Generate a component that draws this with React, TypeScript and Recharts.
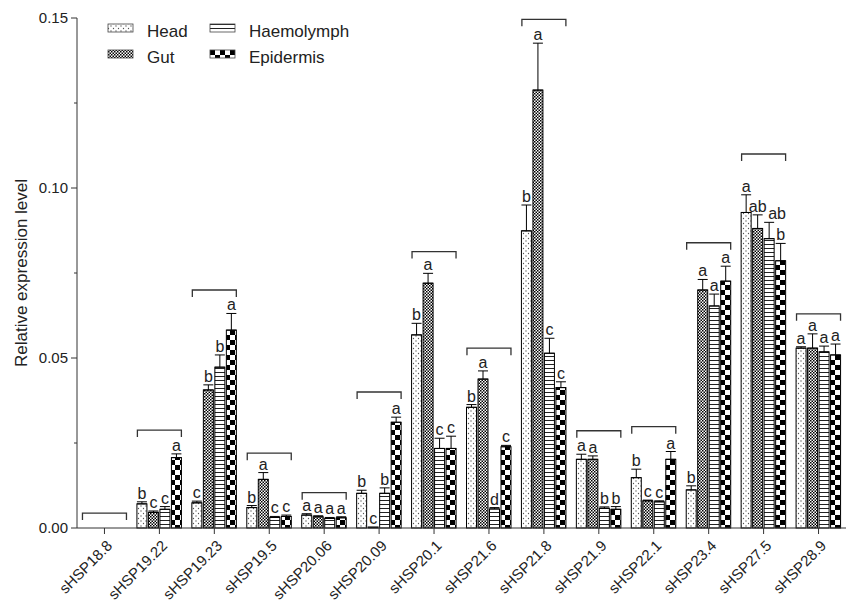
import React from 'react';
import { ComposedChart, Bar, XAxis, YAxis, ErrorBar, Scatter } from 'recharts';

const genes = ['sHSP18.8', 'sHSP19.22', 'sHSP19.23', 'sHSP19.5', 'sHSP20.06', 'sHSP20.09', 'sHSP20.1', 'sHSP21.6', 'sHSP21.8', 'sHSP21.9', 'sHSP22.1', 'sHSP23.4', 'sHSP27.5', 'sHSP28.9'];

const head = [0, 0.0071, 0.0074, 0.006, 0.0038, 0.0102, 0.0568, 0.0355, 0.0874, 0.0202, 0.0148, 0.0112, 0.0928, 0.0529];
const headErr = [0, 0.0006, 0.0005, 0.0006, 0.0004, 0.0009, 0.0034, 0.0008, 0.0076, 0.0015, 0.0025, 0.0012, 0.0052, 0.0004];
const gut = [0, 0.0046, 0.0406, 0.0143, 0.0033, 0.0003, 0.072, 0.0438, 0.1288, 0.0202, 0.008, 0.07, 0.0881, 0.0529];
const gutErr = [0, 0.0004, 0.0015, 0.002, 0.0003, 0, 0.0029, 0.0024, 0.0138, 0.001, 0.0002, 0.0031, 0.004, 0.0042];
const haemolymph = [0, 0.0055, 0.0473, 0.0031, 0.0028, 0.0102, 0.0234, 0.0056, 0.0514, 0.0058, 0.0077, 0.0653, 0.0851, 0.0518];
const haemolymphErr = [0, 0.0008, 0.0036, 0.0003, 0.0003, 0.0016, 0.003, 0.0004, 0.0044, 0.0004, 0.0003, 0.0035, 0.0048, 0.0017];
const epidermis = [0, 0.0207, 0.0582, 0.0034, 0.003, 0.0311, 0.0234, 0.0239, 0.0413, 0.0055, 0.0202, 0.0726, 0.0786, 0.0509];
const epidermisErr = [0, 0.0011, 0.0049, 0.0004, 0.0003, 0.0015, 0.0036, 0.0004, 0.0017, 0.0008, 0.0023, 0.0044, 0.0051, 0.0032];

// significance letters per tissue
const headLetters = ['', 'b', 'c', 'b', 'a', 'b', 'b', 'b', 'b', 'a', 'b', 'b', 'a', 'a'];
const gutLetters = ['', 'c', 'b', 'a', 'a', 'c', 'a', 'a', 'a', 'a', 'c', 'a', 'ab', 'a'];
const haemolymphLetters = ['', 'c', 'b', 'c', 'a', 'b', 'c', 'd', 'c', 'b', 'c', 'a', 'ab', 'a'];
const epidermisLetters = ['', 'a', 'a', 'c', 'a', 'a', 'c', 'c', 'c', 'b', 'a', 'a', 'b', 'a'];

// height of the comparison bracket over each gene
const brackets = [0.0044, 0.0288, 0.07, 0.022, 0.0104, 0.04, 0.0813, 0.0529, 0.1496, 0.0286, 0.0298, 0.0839, 0.11, 0.063];

const yTicks = [0, 0.025, 0.05, 0.075, 0.1, 0.125, 0.15];

const FONT = '"Liberation Sans", Arial, Helvetica, sans-serif';
const W = 850;
const H = 611;
const PLOT_TOP = 18;
const PLOT_BOTTOM = 528;
const Y_MAX = 0.15;
const PX_PER_UNIT = (PLOT_BOTTOM - PLOT_TOP) / Y_MAX;

// upper-only error range; no whisker where there is nothing to show
const upperErr = (v: number, e: number) => (v > 0 && e > 0 ? [0, e] : null);

const data = genes.map((name, i) => ({
  name,
  head: head[i],
  headE: upperErr(head[i], headErr[i]),
  gut: gut[i],
  gutE: upperErr(gut[i], gutErr[i]),
  haemolymph: haemolymph[i],
  haemolymphE: upperErr(haemolymph[i], haemolymphErr[i]),
  epidermis: epidermis[i],
  epidermisE: upperErr(epidermis[i], epidermisErr[i]),
  bracket: brackets[i],
}));

// bar rectangle with its significance letter over the error cap;
// two-letter marks on the haemolymph bars lean right so they clear the gut mark
const letteredBar = (errs: number[], letters: string[], wideAnchor: 'middle' | 'start' = 'middle') => (props: any) => {
  const { x, y, width, height, fill, index, value } = props;
  const txt = letters[index];
  const v = Array.isArray(value) ? value[1] - value[0] : value;
  const top = PLOT_BOTTOM - (v + errs[index]) * PX_PER_UNIT;
  const wide = txt && txt.length > 1 && wideAnchor === 'start';
  return (
    <g>
      {height > 0 && <rect x={x} y={y} width={width} height={height} fill={fill} stroke="#000" strokeWidth={1} />}
      {txt && (
        <text
          x={wide ? x + width / 2 - 1 : x + width / 2}
          y={top - 3}
          textAnchor={wide ? 'start' : 'middle'}
          fontSize={16}
          fontFamily={FONT}
          fill="#222"
        >
          {txt}
        </text>
      )}
    </g>
  );
};

const BracketShape = (props: any) => {
  const { cx, cy } = props;
  if (cx == null || cy == null) return null;
  const hw = 22;
  return (
    <path
      d={`M${cx - hw},${cy + 7}L${cx - hw},${cy}L${cx + hw},${cy}L${cx + hw},${cy + 7}`}
      fill="none"
      stroke="#333"
      strokeWidth={1.3}
    />
  );
};

const YTick = (props: any) => {
  const { x, y, payload } = props;
  const axisX = x + 8;
  const major = Math.round(payload.value * 1000) % 50 === 0;
  return (
    <g>
      <line x1={axisX - (major ? 6 : 3)} y1={y} x2={axisX} y2={y} stroke="#333" strokeWidth={1} />
      {major && (
        <text x={x - 1} y={y} dy="0.35em" textAnchor="end" fontSize={15} fontFamily={FONT} fill="#222">
          {payload.value.toFixed(2)}
        </text>
      )}
    </g>
  );
};

const XTick = (props: any) => {
  const { x, y, payload } = props;
  return (
    <g transform={`translate(${x + 5},${y + 7})`}>
      <text textAnchor="end" transform="rotate(-45)" dy="0.35em" fontSize={15} fontFamily={FONT} fill="#222">
        {payload.value}
      </text>
    </g>
  );
};

const YLabel = (props: any) => {
  const { viewBox } = props;
  const cy = viewBox.y + viewBox.height / 2;
  return (
    <text x={21} y={cy} transform={`rotate(-90, 21, ${cy})`} textAnchor="middle" dy="0.35em" fontSize={17} fontFamily={FONT} fill="#222">
      Relative expression level
    </text>
  );
};

const legendItems = [
  { label: 'Head', fill: 'url(#patHead)', x: 108, y: 24 },
  { label: 'Gut', fill: 'url(#patGut)', x: 108, y: 50 },
  { label: 'Haemolymph', fill: 'url(#patHaem)', x: 210, y: 24 },
  { label: 'Epidermis', fill: 'url(#patEpi)', x: 210, y: 50 },
];

const TissueLegend = () => (
  <svg width={W} height={80} style={{ position: 'absolute', left: 0, top: 0, pointerEvents: 'none' }}>
    {legendItems.map((it) => (
      <g key={it.label}>
        <rect x={it.x} y={it.y} width={25} height={8} fill={it.fill} stroke="#444" strokeWidth={0.8} />
        <text x={it.x + 39} y={it.y + 13} fontSize={17} fontFamily={FONT} fill="#222">
          {it.label}
        </text>
      </g>
    ))}
  </svg>
);

export default function App() {
  return (
    <div style={{ position: 'absolute', left: 0, top: 0, width: W, height: H, background: '#fff' }}>
      <ComposedChart
        width={W}
        height={H}
        data={data}
        margin={{ top: PLOT_TOP, right: 4, bottom: 0, left: 0 }}
        barSize={10}
        barGap={1.5}
      >
        <defs>
          <pattern id="patHead" width="5" height="5" patternUnits="userSpaceOnUse">
            <rect width="5" height="5" fill="#fff" />
            <circle cx="1" cy="1" r="0.65" fill="#555" />
            <circle cx="3.5" cy="3.5" r="0.65" fill="#555" />
          </pattern>
          <pattern id="patGut" width="3" height="3" patternUnits="userSpaceOnUse">
            <rect width="3" height="3" fill="#fff" />
            <rect x="0" y="0" width="1.5" height="1.5" fill="#000" />
            <rect x="1.5" y="1.5" width="1.5" height="1.5" fill="#000" />
          </pattern>
          <pattern id="patHaem" width="4" height="4" patternUnits="userSpaceOnUse">
            <rect width="4" height="4" fill="#fff" />
            <rect y="0" width="4" height="1" fill="#222" />
          </pattern>
          <pattern id="patEpi" width="10" height="10" patternUnits="userSpaceOnUse">
            <rect width="10" height="10" fill="#fff" />
            <rect x="0" y="0" width="5" height="5" fill="#000" />
            <rect x="5" y="5" width="5" height="5" fill="#000" />
          </pattern>
        </defs>
        <XAxis
          dataKey="name"
          height={83}
          interval={0}
          tick={<XTick />}
          tickSize={6}
          tickMargin={2}
          tickLine={{ stroke: '#333' }}
          axisLine={{ stroke: '#333' }}
        />
        <YAxis
          width={77}
          domain={[0, Y_MAX]}
          ticks={yTicks}
          interval={0}
          tick={<YTick />}
          tickSize={6}
          tickMargin={2}
          tickLine={false}
          axisLine={{ stroke: '#333' }}
          label={<YLabel />}
        />
        <Bar dataKey="head" fill="url(#patHead)" shape={letteredBar(headErr, headLetters)} isAnimationActive={false}>
          <ErrorBar dataKey="headE" width={5} stroke="#000" strokeWidth={1} direction="y" />
        </Bar>
        <Bar dataKey="gut" fill="url(#patGut)" shape={letteredBar(gutErr, gutLetters)} isAnimationActive={false}>
          <ErrorBar dataKey="gutE" width={5} stroke="#000" strokeWidth={1} direction="y" />
        </Bar>
        <Bar dataKey="haemolymph" fill="url(#patHaem)" shape={letteredBar(haemolymphErr, haemolymphLetters, 'start')} isAnimationActive={false}>
          <ErrorBar dataKey="haemolymphE" width={5} stroke="#000" strokeWidth={1} direction="y" />
        </Bar>
        <Bar dataKey="epidermis" fill="url(#patEpi)" shape={letteredBar(epidermisErr, epidermisLetters)} isAnimationActive={false}>
          <ErrorBar dataKey="epidermisE" width={5} stroke="#000" strokeWidth={1} direction="y" />
        </Bar>
        <Scatter dataKey="bracket" shape={<BracketShape />} isAnimationActive={false} />
      </ComposedChart>
      <TissueLegend />
    </div>
  );
}
